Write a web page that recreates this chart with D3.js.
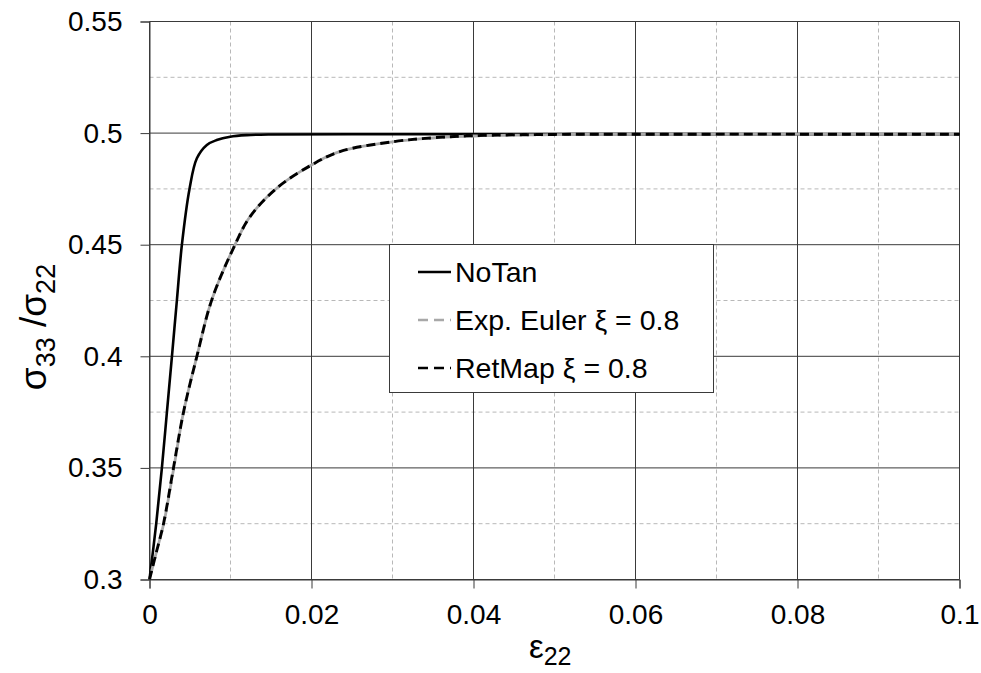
<!DOCTYPE html>
<html>
<head>
<meta charset="utf-8">
<script src="https://cdn.jsdelivr.net/npm/d3@7"></script>
<style>
  html, body { margin: 0; padding: 0; background: #fff; }
  svg { display: block; font-family: "Liberation Sans", Arial, sans-serif; }
</style>
</head>
<body>
<svg id="chart" width="981" height="673"></svg>
<script>
// Strain ε22 (x) and stress ratio σ33/σ22 (y) for each integration scheme
const noTanStrain = [0, 0.00083, 0.00153, 0.00215, 0.00277, 0.00338, 0.0040, 0.00494, 0.00585, 0.00708, 0.0083, 0.00996, 0.0120, 0.0150, 0.0250, 0.1000];
const noTanRatio  = [0.300, 0.325, 0.350, 0.375, 0.400, 0.425, 0.450, 0.475, 0.4887, 0.4947, 0.4969, 0.4984, 0.4991, 0.4994, 0.4995, 0.4995];

const eulerStrain = [0, 0.0009, 0.00175, 0.0030, 0.0042, 0.00585, 0.0077, 0.01056, 0.0124, 0.0157, 0.0200, 0.0235, 0.0300, 0.0350, 0.0400, 0.0500, 0.0600, 0.1000];
const eulerRatio  = [0.300, 0.313, 0.325, 0.350, 0.375, 0.400, 0.4254, 0.450, 0.4625, 0.4753, 0.4857, 0.4917, 0.4961, 0.4978, 0.4987, 0.4993, 0.4995, 0.4995];

const retMapStrain = [0, 0.0009, 0.00173, 0.00296, 0.0042, 0.00585, 0.0077, 0.01056, 0.0124, 0.0157, 0.0200, 0.0235, 0.0300, 0.0350, 0.0400, 0.0500, 0.0600, 0.1000];
const retMapRatio  = [0.300, 0.313, 0.325, 0.350, 0.375, 0.400, 0.4254, 0.450, 0.4625, 0.4753, 0.4857, 0.4917, 0.4961, 0.4979, 0.4988, 0.4994, 0.4995, 0.4995];

const xMajorTicks = [0, 0.02, 0.04, 0.06, 0.08, 0.1];
const xTickLabels = ["0", "0.02", "0.04", "0.06", "0.08", "0.1"];
const xMinorTicks = [0.01, 0.03, 0.05, 0.07, 0.09];
const yMajorTicks = [0.3, 0.35, 0.4, 0.45, 0.5, 0.55];
const yTickLabels = ["0.3", "0.35", "0.4", "0.45", "0.5", "0.55"];
const yMinorTicks = [0.325, 0.375, 0.425, 0.475, 0.525];

const seriesNames = ["NoTan", "Exp. Euler ξ = 0.8", "RetMap ξ = 0.8"];

const svg = d3.select("#chart");
const plotLeft = 149.5, plotRight = 959.5, plotTop = 21.5, plotBottom = 579.5;

const x = d3.scaleLinear().domain([0, 0.1]).range([plotLeft, plotRight]);
const y = d3.scaleLinear().domain([0.3, 0.55]).range([plotBottom, plotTop]);

// minor dashed grid
const grid = svg.append("g");
grid.selectAll(".vmin").data(xMinorTicks).enter().append("line")
  .attr("x1", d => x(d)).attr("x2", d => x(d)).attr("y1", plotTop).attr("y2", plotBottom)
  .attr("stroke", "#b8b8b8").attr("stroke-width", 1).attr("stroke-dasharray", "4,3");
grid.selectAll(".hmin").data(yMinorTicks).enter().append("line")
  .attr("x1", plotLeft).attr("x2", plotRight).attr("y1", d => y(d)).attr("y2", d => y(d))
  .attr("stroke", "#b8b8b8").attr("stroke-width", 1).attr("stroke-dasharray", "4,3");

// major solid grid
grid.selectAll(".vmaj").data(xMajorTicks).enter().append("line")
  .attr("x1", d => x(d)).attr("x2", d => x(d)).attr("y1", plotTop).attr("y2", plotBottom)
  .attr("stroke", "#3a3a3a").attr("stroke-width", 1);
grid.selectAll(".hmaj").data(yMajorTicks).enter().append("line")
  .attr("x1", plotLeft).attr("x2", plotRight).attr("y1", d => y(d)).attr("y2", d => y(d))
  .attr("stroke", "#3a3a3a").attr("stroke-width", 1);

// axes
const xAxis = d3.axisBottom(x).tickValues(xMajorTicks)
  .tickFormat((d, i) => xTickLabels[i]).tickSize(9).tickPadding(16);
const gx = svg.append("g").attr("transform", `translate(0,${plotBottom})`).call(xAxis);
gx.select(".domain").attr("stroke", "#3a3a3a");
gx.selectAll(".tick line").attr("stroke", "#3a3a3a");
gx.selectAll("text").attr("font-size", 28).attr("fill", "#000")
  .attr("font-family", "Liberation Sans, Arial, sans-serif");

const yAxis = d3.axisLeft(y).tickValues(yMajorTicks)
  .tickFormat((d, i) => yTickLabels[i]).tickSize(9).tickPadding(18);
const gy = svg.append("g").attr("transform", `translate(${plotLeft},0)`).call(yAxis);
gy.select(".domain").attr("stroke", "#3a3a3a");
gy.selectAll(".tick line").attr("stroke", "#3a3a3a");
gy.selectAll("text").attr("font-size", 28).attr("fill", "#000")
  .attr("font-family", "Liberation Sans, Arial, sans-serif");

// curves (centripetal Catmull-Rom keeps the knees smooth without overshoot)
const line = d3.line().x(d => x(d[0])).y(d => y(d[1])).curve(d3.curveCatmullRom.alpha(0.5));
const zip = (a, b) => a.map((v, i) => [v, b[i]]);

const plot = svg.append("g");
plot.append("path").datum(zip(noTanStrain, noTanRatio)).attr("d", line)
  .attr("fill", "none").attr("stroke", "#000").attr("stroke-width", 2.6);
plot.append("path").datum(zip(eulerStrain, eulerRatio)).attr("d", line)
  .attr("fill", "none").attr("stroke", "#a8a8a8").attr("stroke-width", 2.8)
  .attr("stroke-dasharray", "9,5").attr("stroke-dashoffset", 7);
plot.append("path").datum(zip(retMapStrain, retMapRatio)).attr("d", line)
  .attr("fill", "none").attr("stroke", "#000").attr("stroke-width", 2.9)
  .attr("stroke-dasharray", "9,5");

// legend
const lg = svg.append("g");
lg.append("rect").attr("x", 389.5).attr("y", 244.5).attr("width", 324).attr("height", 148)
  .attr("fill", "#fff").attr("stroke", "#3a3a3a").attr("stroke-width", 1);
const legendStyles = [
  { stroke: "#000", dash: null },
  { stroke: "#a8a8a8", dash: "10,6" },
  { stroke: "#000", dash: "10,6" }
];
seriesNames.forEach((name, i) => {
  const yy = 272 + i * 48;
  lg.append("line").attr("x1", 418).attr("x2", 451).attr("y1", yy).attr("y2", yy)
    .attr("stroke", legendStyles[i].stroke).attr("stroke-width", 2.4)
    .attr("stroke-dasharray", legendStyles[i].dash);
  lg.append("text").attr("x", 455).attr("y", yy + 10).attr("font-size", 28.5)
    .attr("fill", "#000").text(name);
});

// axis titles
const xt = svg.append("text").attr("x", 529).attr("y", 658)
  .attr("fill", "#000").attr("font-size", 33);
xt.append("tspan").text("ε");
xt.append("tspan").attr("font-size", 25).attr("dy", 7).text("22");

const yt = svg.append("text").attr("transform", "translate(46,327) rotate(-90)")
  .attr("text-anchor", "middle").attr("fill", "#000").attr("font-size", 37);
yt.append("tspan").text("σ");
yt.append("tspan").attr("font-size", 27).attr("dy", 9).text("33");
yt.append("tspan").attr("dy", -9).text(" /σ");
yt.append("tspan").attr("font-size", 27).attr("dy", 9).text("22");
</script>
</body>
</html>
